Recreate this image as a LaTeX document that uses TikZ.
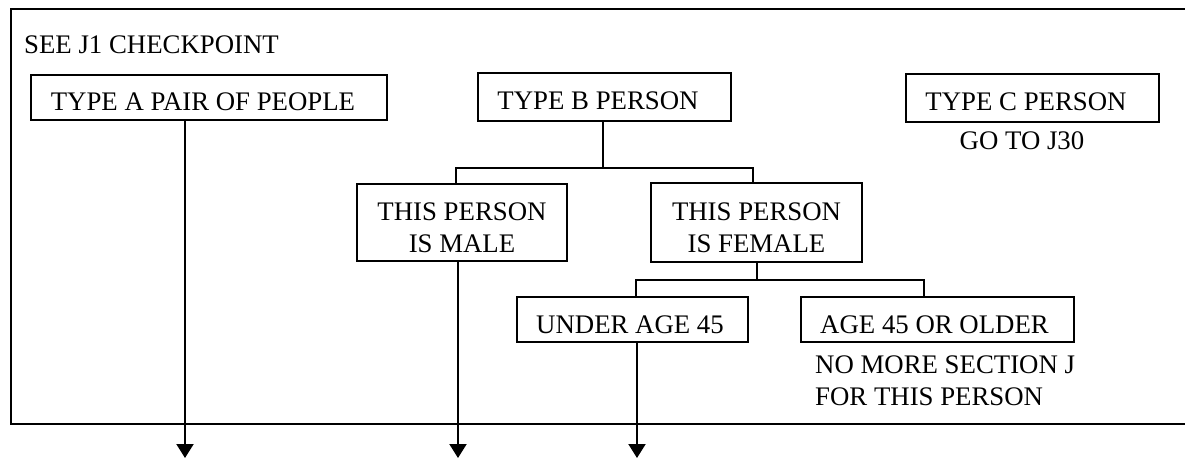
\documentclass[tikz,border=0pt]{standalone}
\usepackage{fontspec}
\setmainfont{Liberation Serif}
\usetikzlibrary{arrows.meta}
\begin{document}
\begin{tikzpicture}[x=1pt,y=-1pt,
  every node/.style={font=\fontsize{26.8}{32}\selectfont, inner sep=0pt},
  boxnode/.style={draw, line width=2pt, rectangle},
  conn/.style={line width=2pt},
  arr/.style={line width=2pt, -{Triangle[length=14pt,width=17pt]}},
  frameline/.style={line width=2pt}]
\useasboundingbox (0,0) rectangle (1185,458);
% outer frame (open on the right)
\draw[frameline] (1185,9) -- (11,9) -- (11,424) -- (1185,424);
% texts
\node[anchor=base west] (see) at (24,53) {SEE J1 CHECKPOINT};
% boxes
\node[boxnode, minimum width=356pt, minimum height=45pt, text height=25pt, text depth=0pt] (a) at (209,97.5) {TYPE A PAIR OF PEOPLE\hspace*{12pt}};
\node[boxnode, minimum width=253pt, minimum height=48pt, text height=24pt, text depth=0pt] (b) at (604.5,97) {TYPE B PERSON\hspace*{13pt}};
\node[boxnode, minimum width=253pt, minimum height=48pt, text height=24pt, text depth=0pt] (c) at (1032.5,98) {TYPE C PERSON\hspace*{13pt}};
\node[anchor=base] (goto) at (1022,149) {GO TO J30};
\node[boxnode, minimum width=210pt, minimum height=77pt, text height=30pt, text depth=35pt] (male) at (462,222.5) {\begin{tabular}[t]{@{}c@{}}THIS PERSON\\IS MALE\end{tabular}};
\node[boxnode, minimum width=211pt, minimum height=79pt, text height=30pt, text depth=35pt] (female) at (756.5,222.5) {\begin{tabular}[t]{@{}c@{}}THIS PERSON\\IS FEMALE\end{tabular}};
\node[boxnode, minimum width=231pt, minimum height=45pt, text height=27pt, text depth=0pt] (under) at (632.5,319.5) {UNDER AGE 45\hspace*{5pt}};
\node[boxnode, minimum width=273pt, minimum height=45pt, text height=27pt, text depth=0pt] (age) at (937.5,319.5) {AGE 45 OR OLDER\hspace*{6pt}};
\node[anchor=base west] (nomore) at (815,373) {\begin{tabular}[t]{@{}l@{}}NO MORE SECTION J\\FOR THIS PERSON\end{tabular}};
% junction coordinates
\coordinate (bsplit) at (603,168);
\coordinate (mtop) at (456,168);
\coordinate (ftop) at (753,168);
\coordinate (fsplit) at (757,280);
\coordinate (ulft) at (636,280);
\coordinate (argt) at (924,280);
\coordinate (aout) at (185,458);
\coordinate (mout) at (458,458);
\coordinate (uout) at (637,458);
% connectors
\draw[conn] (b.south -| bsplit) -- (bsplit);
\draw[conn] (male.north -| mtop) -- (mtop) -- (ftop) -- (female.north -| ftop);
\draw[conn] (female.south -| fsplit) -- (fsplit);
\draw[conn] (under.north -| ulft) -- (ulft) -- (argt) -- (age.north -| argt);
% arrows leaving the frame
\draw[arr] (a.south -| aout) -- (aout);
\draw[arr] (male.south -| mout) -- (mout);
\draw[arr] (under.south -| uout) -- (uout);
\end{tikzpicture}
\end{document}
